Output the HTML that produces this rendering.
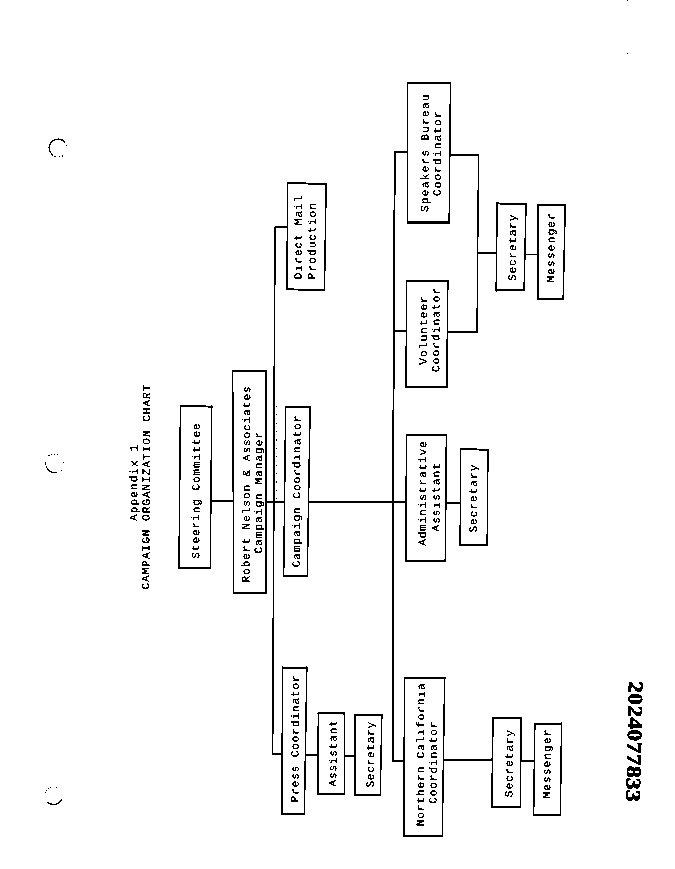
<!DOCTYPE html>
<html><head><meta charset="utf-8"><title>Campaign Organization Chart</title>
<style>
html,body{margin:0;padding:0;background:#fff;}
body{width:675px;height:869px;overflow:hidden;}
svg{display:block;}
.t{font-family:"Liberation Mono",monospace;font-size:11.0px;letter-spacing:0.7px;fill:#000;stroke:#000;stroke-width:0.14px;}
.n{font-family:"Liberation Serif",serif;font-weight:bold;fill:#000;stroke:#000;stroke-width:0.5px;}
</style></head><body>
<svg width="675" height="869" viewBox="0 0 675 869">
<rect x="0" y="0" width="675" height="869" fill="#fff"/>
<defs><filter id="bin" x="0" y="0" width="100%" height="100%" color-interpolation-filters="sRGB"><feComponentTransfer><feFuncR type="discrete" tableValues="0 0 0 1 1"/><feFuncG type="discrete" tableValues="0 0 0 1 1"/><feFuncB type="discrete" tableValues="0 0 0 1 1"/></feComponentTransfer></filter></defs>
<g filter="url(#bin)">
<rect x="0" y="0" width="675" height="869" fill="#fff"/>
<path d="M179.80,405.90 L212.40,406.70 M178.30,567.80 L210.90,567.80" fill="none" stroke="#000" stroke-width="1.80"/>
<path d="M180.45,405.00 L178.95,568.70 M211.75,405.80 L210.25,568.70" fill="none" stroke="#000" stroke-width="1.30"/>
<path d="M232.00,370.90 L266.90,371.10 M233.10,592.80 L266.50,592.80" fill="none" stroke="#000" stroke-width="1.80"/>
<path d="M232.65,370.00 L233.75,593.70 M266.25,370.20 L265.85,593.70" fill="none" stroke="#000" stroke-width="1.30"/>
<path d="M285.00,406.90 L310.80,406.90 M283.00,576.00 L307.90,576.00" fill="none" stroke="#000" stroke-width="1.80"/>
<path d="M285.65,406.00 L283.65,576.90 M310.15,406.00 L307.25,576.90" fill="none" stroke="#000" stroke-width="1.30"/>
<path d="M287.10,183.10 L326.80,183.90 M286.20,289.30 L325.10,289.80" fill="none" stroke="#000" stroke-width="1.80"/>
<path d="M287.75,182.20 L286.85,290.20 M326.15,183.00 L324.45,290.70" fill="none" stroke="#000" stroke-width="1.30"/>
<path d="M282.00,667.60 L307.50,667.60 M281.10,813.90 L305.00,813.90" fill="none" stroke="#000" stroke-width="1.80"/>
<path d="M282.65,666.70 L281.75,814.80 M306.85,666.70 L304.35,814.80" fill="none" stroke="#000" stroke-width="1.30"/>
<path d="M317.70,713.30 L345.00,713.30 M317.10,794.20 L345.00,794.20" fill="none" stroke="#000" stroke-width="1.80"/>
<path d="M318.35,712.40 L317.75,795.10 M344.35,712.40 L344.35,795.10" fill="none" stroke="#000" stroke-width="1.30"/>
<path d="M354.60,715.10 L382.50,715.10 M354.40,794.80 L380.90,794.80" fill="none" stroke="#000" stroke-width="1.80"/>
<path d="M355.25,714.20 L355.05,795.70 M381.85,714.20 L380.25,795.70" fill="none" stroke="#000" stroke-width="1.30"/>
<path d="M407.00,82.80 L451.10,83.10 M407.00,222.50 L449.80,222.50" fill="none" stroke="#000" stroke-width="1.80"/>
<path d="M407.65,81.90 L407.65,223.40 M450.45,82.20 L449.15,223.40" fill="none" stroke="#000" stroke-width="1.30"/>
<path d="M406.10,280.70 L448.50,281.40 M405.30,386.90 L447.40,386.90" fill="none" stroke="#000" stroke-width="1.80"/>
<path d="M406.75,279.80 L405.95,387.80 M447.85,280.50 L446.75,387.80" fill="none" stroke="#000" stroke-width="1.30"/>
<path d="M405.80,435.00 L447.00,435.20 M405.20,560.60 L446.00,560.60" fill="none" stroke="#000" stroke-width="1.80"/>
<path d="M406.45,434.10 L405.85,561.50 M446.35,434.30 L445.35,561.50" fill="none" stroke="#000" stroke-width="1.30"/>
<path d="M460.00,448.90 L488.60,449.90 M459.50,544.90 L487.80,544.90" fill="none" stroke="#000" stroke-width="1.80"/>
<path d="M460.65,448.00 L460.15,545.80 M487.95,449.00 L487.15,545.80" fill="none" stroke="#000" stroke-width="1.30"/>
<path d="M403.90,677.90 L445.30,677.90 M403.10,836.00 L442.90,836.00" fill="none" stroke="#000" stroke-width="1.80"/>
<path d="M404.55,677.00 L403.75,836.90 M444.65,677.00 L442.25,836.90" fill="none" stroke="#000" stroke-width="1.30"/>
<path d="M496.50,203.40 L526.70,204.40 M495.50,290.40 L524.70,290.40" fill="none" stroke="#000" stroke-width="1.80"/>
<path d="M497.15,202.50 L496.15,291.30 M526.05,203.50 L524.05,291.30" fill="none" stroke="#000" stroke-width="1.30"/>
<path d="M537.40,204.90 L565.90,204.90 M537.20,298.90 L563.80,298.90" fill="none" stroke="#000" stroke-width="1.80"/>
<path d="M538.05,204.00 L537.85,299.80 M565.25,204.00 L563.15,299.80" fill="none" stroke="#000" stroke-width="1.30"/>
<path d="M492.40,717.80 L521.90,718.40 M491.10,806.70 L520.90,807.10" fill="none" stroke="#000" stroke-width="1.80"/>
<path d="M493.05,716.90 L491.75,807.60 M521.25,717.50 L520.25,808.00" fill="none" stroke="#000" stroke-width="1.30"/>
<path d="M534.20,723.70 L562.20,723.70 M533.00,814.80 L561.00,814.80" fill="none" stroke="#000" stroke-width="1.80"/>
<path d="M534.85,722.80 L533.65,815.70 M561.55,722.80 L560.35,815.70" fill="none" stroke="#000" stroke-width="1.30"/>
<polyline points="210.50,501.00 233.50,501.00" fill="none" stroke="#000" stroke-width="1.80" stroke-linejoin="miter" stroke-linecap="butt"/>
<polyline points="266.00,501.80 284.50,501.80" fill="none" stroke="#000" stroke-width="1.80" stroke-linejoin="miter" stroke-linecap="butt"/>
<polyline points="287.50,227.20 275.20,227.20 274.50,310.00 273.60,560.00 272.60,754.20 282.00,754.20" fill="none" stroke="#000" stroke-width="1.40" stroke-linejoin="miter" stroke-linecap="butt"/>
<polyline points="308.50,502.00 406.00,502.00" fill="none" stroke="#000" stroke-width="1.80" stroke-linejoin="miter" stroke-linecap="butt"/>
<polyline points="407.80,152.20 395.10,152.20 394.50,200.00 393.50,400.00 393.00,502.00 393.00,650.00 392.70,761.20 404.30,761.20" fill="none" stroke="#000" stroke-width="1.70" stroke-linejoin="miter" stroke-linecap="butt"/>
<polyline points="393.40,331.20 406.40,331.20" fill="none" stroke="#000" stroke-width="1.80" stroke-linejoin="miter" stroke-linecap="butt"/>
<polyline points="449.80,155.30 479.00,155.30" fill="none" stroke="#000" stroke-width="1.80" stroke-linejoin="miter" stroke-linecap="butt"/>
<polyline points="478.50,154.60 477.00,332.60" fill="none" stroke="#000" stroke-width="1.20" stroke-linejoin="miter" stroke-linecap="butt"/>
<polyline points="447.40,331.80 477.60,331.80" fill="none" stroke="#000" stroke-width="1.80" stroke-linejoin="miter" stroke-linecap="butt"/>
<polyline points="477.40,253.00 496.60,253.00" fill="none" stroke="#000" stroke-width="1.80" stroke-linejoin="miter" stroke-linecap="butt"/>
<polyline points="525.20,254.50 538.00,254.50" fill="none" stroke="#000" stroke-width="1.80" stroke-linejoin="miter" stroke-linecap="butt"/>
<polyline points="446.20,502.80 460.30,502.80" fill="none" stroke="#000" stroke-width="1.80" stroke-linejoin="miter" stroke-linecap="butt"/>
<polyline points="305.00,755.00 317.80,755.00" fill="none" stroke="#000" stroke-width="1.80" stroke-linejoin="miter" stroke-linecap="butt"/>
<polyline points="344.60,755.60 355.00,755.60" fill="none" stroke="#000" stroke-width="1.80" stroke-linejoin="miter" stroke-linecap="butt"/>
<polyline points="443.80,759.60 492.20,759.60" fill="none" stroke="#000" stroke-width="1.80" stroke-linejoin="miter" stroke-linecap="butt"/>
<polyline points="521.00,761.00 534.20,761.00" fill="none" stroke="#000" stroke-width="1.80" stroke-linejoin="miter" stroke-linecap="butt"/>
<text class="t" style="letter-spacing:1.109px" transform="translate(137.20,520.90) rotate(-89.74)">Appendix 1</text>
<text class="t" style="letter-spacing:1.019px" transform="translate(149.30,589.50) rotate(-89.74)">CAMPAIGN ORGANIZATION CHART</text>
<text class="t" style="letter-spacing:0.969px" transform="translate(199.20,558.70) rotate(-89.74)">Steering Committee</text>
<text class="t" style="letter-spacing:0.980px" transform="translate(249.40,582.50) rotate(-89.74)">Robert Nelson &amp; Associates</text>
<text class="t" style="letter-spacing:1.067px" transform="translate(261.65,553.60) rotate(-89.74)">Campaign Manager</text>
<text class="t" style="letter-spacing:1.027px" transform="translate(299.85,567.30) rotate(-89.74)">Campaign Coordinator</text>
<text class="t" style="letter-spacing:1.100px" transform="translate(301.40,279.20) rotate(-89.74)">Direct Mail</text>
<text class="t" style="letter-spacing:1.112px" transform="translate(315.35,279.20) rotate(-89.74)">Production</text>
<text class="t" style="letter-spacing:0.907px" transform="translate(298.35,802.20) rotate(-89.74)">Press Coordinator</text>
<text class="t" style="letter-spacing:0.889px" transform="translate(336.30,786.60) rotate(-89.74)">Assistant</text>
<text class="t" style="letter-spacing:0.789px" transform="translate(373.75,787.60) rotate(-89.74)">Secretary</text>
<text class="t" style="letter-spacing:1.322px" transform="translate(428.30,212.00) rotate(-89.74)">Speakers Bureau</text>
<text class="t" style="letter-spacing:1.200px" transform="translate(440.60,196.10) rotate(-89.74)">Coordinator</text>
<text class="t" style="letter-spacing:1.125px" transform="translate(426.80,364.70) rotate(-89.74)">Volunteer</text>
<text class="t" style="letter-spacing:1.150px" transform="translate(439.20,372.10) rotate(-89.74)">Coordinator</text>
<text class="t" style="letter-spacing:0.923px" transform="translate(425.80,545.80) rotate(-89.74)">Administrative</text>
<text class="t" style="letter-spacing:1.125px" transform="translate(439.35,531.60) rotate(-89.74)">Assistant</text>
<text class="t" style="letter-spacing:1.060px" transform="translate(476.65,532.60) rotate(-89.74)">Secretary</text>
<text class="t" style="letter-spacing:0.973px" transform="translate(423.80,826.30) rotate(-89.74)">Northern California</text>
<text class="t" style="letter-spacing:0.950px" transform="translate(436.50,803.80) rotate(-89.74)">Coordinator</text>
<text class="t" style="letter-spacing:0.875px" transform="translate(515.80,281.00) rotate(-89.74)">Secretary</text>
<text class="t" style="letter-spacing:1.250px" transform="translate(554.25,282.60) rotate(-89.74)">Messenger</text>
<text class="t" style="letter-spacing:1.000px" transform="translate(512.45,797.20) rotate(-89.74)">Secretary</text>
<text class="t" style="letter-spacing:1.185px" transform="translate(550.20,798.60) rotate(-89.74)">Messenger</text>
<text class="n" font-size="23.60" letter-spacing="0.30" transform="translate(628.90,681.00) rotate(91.20) scale(1,0.870)">2024077833</text>
<path d="M65.1,142.4 A9.2,9.2 0 0 0 49.2,146.2 A9.2,9.2 0 0 0 51.4,153.6" fill="none" stroke="#000" stroke-width="1.1"/>
<path d="M51.6,154.4 A9.2,9.2 0 0 0 57.6,157.0" fill="none" stroke="#000" stroke-width="1.1" stroke-dasharray="1.6 1.4"/>
<path d="M59.2,157.0 A9.2,9.2 0 0 0 65.2,153.8" fill="none" stroke="#000" stroke-width="1.1" stroke-dasharray="0.9 2.2"/>
<path d="M66.6,145.0 L67.0,146.2" fill="none" stroke="#000" stroke-width="1.1"/>
<path d="M48.6,455.8 A9,9 0 0 1 59.6,456.2" fill="none" stroke="#000" stroke-width="1.1" stroke-dasharray="1.2 1.6"/>
<path d="M63.4,462.4 L63.4,463.2" fill="none" stroke="#000" stroke-width="1.1"/>
<path d="M61.4,470.2 L61.8,470.8" fill="none" stroke="#000" stroke-width="1.1"/>
<path d="M45.6,461.8 L45.6,464.4" fill="none" stroke="#000" stroke-width="1.1"/>
<path d="M46.2,466.4 A9,9 0 0 0 57.0,472.4" fill="none" stroke="#000" stroke-width="1.1"/>
<path d="M45.4,792.6 A9,9 0 0 1 51.0,787.4" fill="none" stroke="#000" stroke-width="1.1" stroke-dasharray="0.9 1.4"/>
<path d="M56.2,787.4 L56.8,787.6" fill="none" stroke="#000" stroke-width="1.1"/>
<path d="M47.2,802.0 A9,9 0 0 0 61.8,799.0" fill="none" stroke="#000" stroke-width="1.1"/>
<path d="M276.4,406 L276.4,506" fill="none" stroke="#000" stroke-width="1.1" stroke-dasharray="0.9 7.5"/>
<rect x="627" y="0" width="1" height="1" fill="#000"/>
<rect x="627" y="53" width="1" height="1" fill="#000"/>
</g>
</svg>
</body></html>
